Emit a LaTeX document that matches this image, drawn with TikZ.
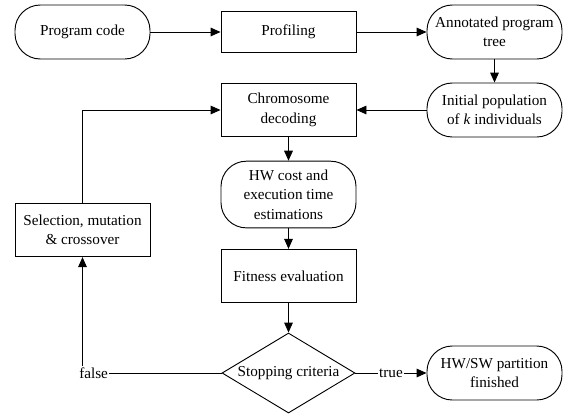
\documentclass[tikz,border=0pt]{standalone}
\usepackage{fontspec}
\setmainfont{Liberation Serif}
\usepackage{tikz}
\usetikzlibrary{arrows.meta,shapes.geometric}
\usetikzlibrary{positioning}
\tikzset{node distance=154.5pt}
\tikzset{
	term/.style={draw, rectangle, rounded corners=19pt, minimum width=101.25pt, minimum height=40.5pt, align=center},
	proc/.style={draw, rectangle, minimum width=101.25pt, minimum height=40pt, align=center},
	crit/.style={draw, diamond, aspect=1.66, minimum width=99.75pt, minimum height=60pt, inner sep=0pt, align=center},
	lbl/.style={fill=white, inner sep=1pt, anchor=center}
}

\begin{document}
\begin{tikzpicture}[x=0.75pt, y=-0.75pt, font=\fontsize{11.4pt}{14.6pt}\selectfont, line width=0.7pt, >={Triangle[length=7.5pt,width=6.5pt]}]
	\useasboundingbox (0,0) rectangle (563,418);
	\node (code)	[term] at (82.5,32)										{Program code};
	\node (prof)	[proc, right of=code, minimum height=31pt]				{Profiling};
	\node (tree)	[term, right of=prof]									{Annotated program\\tree};
	\node (init)	[term, below of=tree, node distance=58.5pt]				{Initial population\\of \textit{k} individuals};
	\node (dec)		[proc, left of=init]									{Chromosome\\decoding};
	\node (est)		[term, below of=dec, node distance=63.4pt, minimum height=50pt]	{HW cost and\\execution time\\estimations};
	\node (fit)		[proc, below of=est, node distance=61.1pt]				{Fitness evaluation};
	\node (stop)	[crit, below of=fit, node distance=72.75pt]				{Stopping criteria};
	\node (done)	[term, right of=stop]									{HW/SW partition\\finished};
	\node (sel)		[proc, left of=est, yshift=-26.6pt]						{Selection, mutation\\\& crossover};
	%
	\draw[->]	(code)	to	(prof);
	\draw[->]	(prof)	to	(tree);
	\draw[->]	(tree)	to	(init);
	\draw[->]	(init)	to	(dec);
	\draw[->]	(dec)	to	(est);
	\draw[->]	(est)	to	(fit);
	\draw[->]	(fit)	to	(stop);
	\draw[->]	(stop)	to node[lbl] {true}	(done);
	\draw[->]	(stop)	-| node[lbl, pos=0.46] {false}	(sel);
	\draw[->]	(sel)	|-	(dec);
\end{tikzpicture}
\end{document}
